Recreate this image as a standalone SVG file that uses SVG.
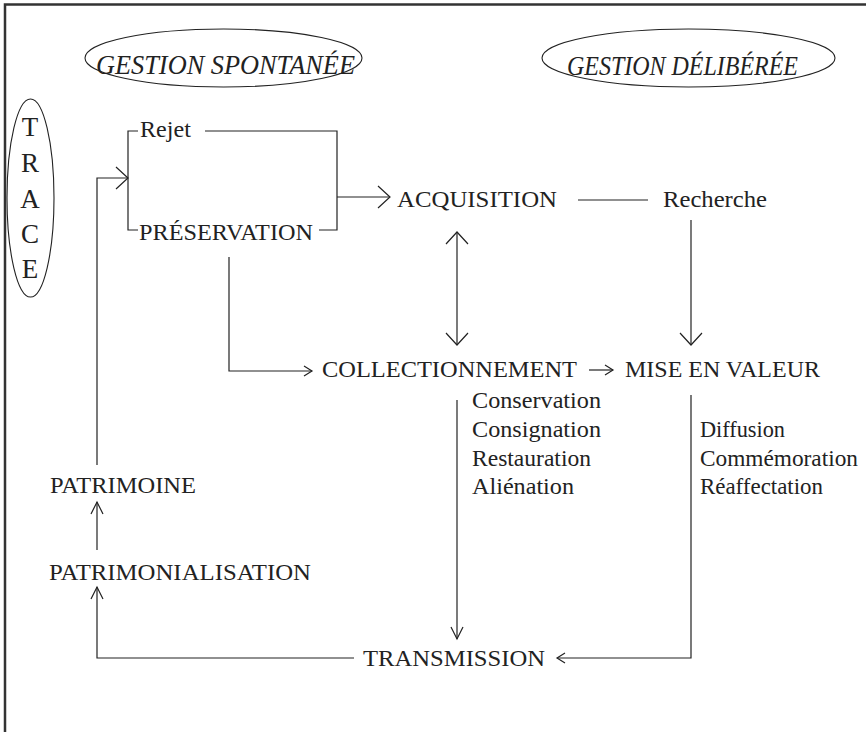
<svg xmlns="http://www.w3.org/2000/svg" width="866" height="732" viewBox="0 0 866 732">
<style>
text{font-family:"Liberation Serif","Times New Roman",serif;fill:#222;}
.t{font-size:24px;}
.it{font-size:28px;font-style:italic;}
.tr{font-size:27px;text-anchor:middle;}
.ln{fill:none;stroke:#222;stroke-width:1.2;}
.shape{fill:none;stroke:#222;stroke-width:1.1;}
</style>
<defs>
<marker id="big" markerUnits="userSpaceOnUse" viewBox="-15 -15 30 30" markerWidth="30" markerHeight="30" refX="0" refY="0" orient="auto-start-reverse">
<path d="M-12,-11 L0,0 L-12,11" fill="none" stroke="#222" stroke-width="1.2"/>
</marker>
<marker id="med" markerUnits="userSpaceOnUse" viewBox="-15 -15 30 30" markerWidth="30" markerHeight="30" refX="0" refY="0" orient="auto">
<path d="M-12,-6 L0,0 L-12,6" fill="none" stroke="#222" stroke-width="1.2"/>
</marker>
<marker id="sm" markerUnits="userSpaceOnUse" viewBox="-15 -15 30 30" markerWidth="30" markerHeight="30" refX="0" refY="0" orient="auto">
<path d="M-8,-5 L0,0 L-8,5" fill="none" stroke="#222" stroke-width="1.2"/>
</marker>
</defs>
<rect width="866" height="732" fill="#fff"/>
<path d="M5,732 V4.5 H866" fill="none" stroke="#333" stroke-width="2.5"/>

<g id="gestion-spontanee">
<ellipse class="shape" cx="223.5" cy="58" rx="138.5" ry="29"/>
<text class="it" x="96" y="74" textLength="259" lengthAdjust="spacingAndGlyphs">GESTION SPONTANÉE</text>
</g>
<g id="gestion-deliberee">
<ellipse class="shape" cx="688.5" cy="58" rx="146.5" ry="29"/>
<text class="it" x="567" y="75" textLength="231" lengthAdjust="spacingAndGlyphs">GESTION DÉLIBÉRÉE</text>
</g>
<g id="trace">
<ellipse class="shape" cx="30.5" cy="198" rx="23.5" ry="99"/>
<text class="tr" x="30" y="136">T</text>
<text class="tr" x="30" y="172">R</text>
<text class="tr" x="30" y="208">A</text>
<text class="tr" x="30" y="243">C</text>
<text class="tr" x="30" y="278">E</text>
</g>
<g id="rejet"><text class="t" x="140" y="137" textLength="51">Rejet</text></g>
<g id="preservation"><text class="t" x="139" y="240" textLength="174" lengthAdjust="spacingAndGlyphs">PRÉSERVATION</text></g>
<g id="acquisition"><text class="t" x="397" y="207" textLength="160" lengthAdjust="spacingAndGlyphs">ACQUISITION</text></g>
<g id="recherche"><text class="t" x="663" y="207" textLength="104" lengthAdjust="spacingAndGlyphs">Recherche</text></g>
<g id="collectionnement"><text class="t" x="322" y="377" textLength="255" lengthAdjust="spacingAndGlyphs">COLLECTIONNEMENT</text></g>
<g id="mise-en-valeur"><text class="t" x="625" y="377" textLength="195" lengthAdjust="spacingAndGlyphs">MISE EN VALEUR</text></g>
<g id="collection-actions">
<text class="t" x="472" y="408" textLength="129" lengthAdjust="spacingAndGlyphs">Conservation</text>
<text class="t" x="472" y="437" textLength="129" lengthAdjust="spacingAndGlyphs">Consignation</text>
<text class="t" x="472" y="466" textLength="119" lengthAdjust="spacingAndGlyphs">Restauration</text>
<text class="t" x="472" y="494" textLength="102" lengthAdjust="spacingAndGlyphs">Aliénation</text>
</g>
<g id="valeur-actions">
<text class="t" x="700" y="437" textLength="85" lengthAdjust="spacingAndGlyphs">Diffusion</text>
<text class="t" x="700" y="466" textLength="158" lengthAdjust="spacingAndGlyphs">Commémoration</text>
<text class="t" x="700" y="494" textLength="123" lengthAdjust="spacingAndGlyphs">Réaffectation</text>
</g>
<g id="patrimoine"><text class="t" x="50" y="493" textLength="146" lengthAdjust="spacingAndGlyphs">PATRIMOINE</text></g>
<g id="patrimonialisation"><text class="t" x="49" y="580" textLength="262" lengthAdjust="spacingAndGlyphs">PATRIMONIALISATION</text></g>
<g id="transmission"><text class="t" x="363" y="666" textLength="182" lengthAdjust="spacingAndGlyphs">TRANSMISSION</text></g>

<g id="connectors">
<path class="ln" d="M138,131 H128 V230 H138"/>
<path class="ln" d="M205,131 H337 V230 H319"/>
<path class="ln" d="M337,197 H390" marker-end="url(#big)"/>
<path class="ln" d="M578,200 H648"/>
<path class="ln" d="M457,232 V345" marker-start="url(#big)" marker-end="url(#big)"/>
<path class="ln" d="M691,220 V345" marker-end="url(#big)"/>
<path class="ln" d="M229,257 V371 H312" marker-end="url(#sm)"/>
<path class="ln" d="M589,370 H613" marker-end="url(#sm)"/>
<path class="ln" d="M457,400 V639" marker-end="url(#med)"/>
<path class="ln" d="M691,395 V658 H557" marker-end="url(#sm)"/>
<path class="ln" d="M354,658 H97 V587" marker-end="url(#med)"/>
<path class="ln" d="M97,550 V502" marker-end="url(#med)"/>
<path class="ln" d="M97,465 V178 H128" marker-end="url(#big)"/>
</g>
</svg>
